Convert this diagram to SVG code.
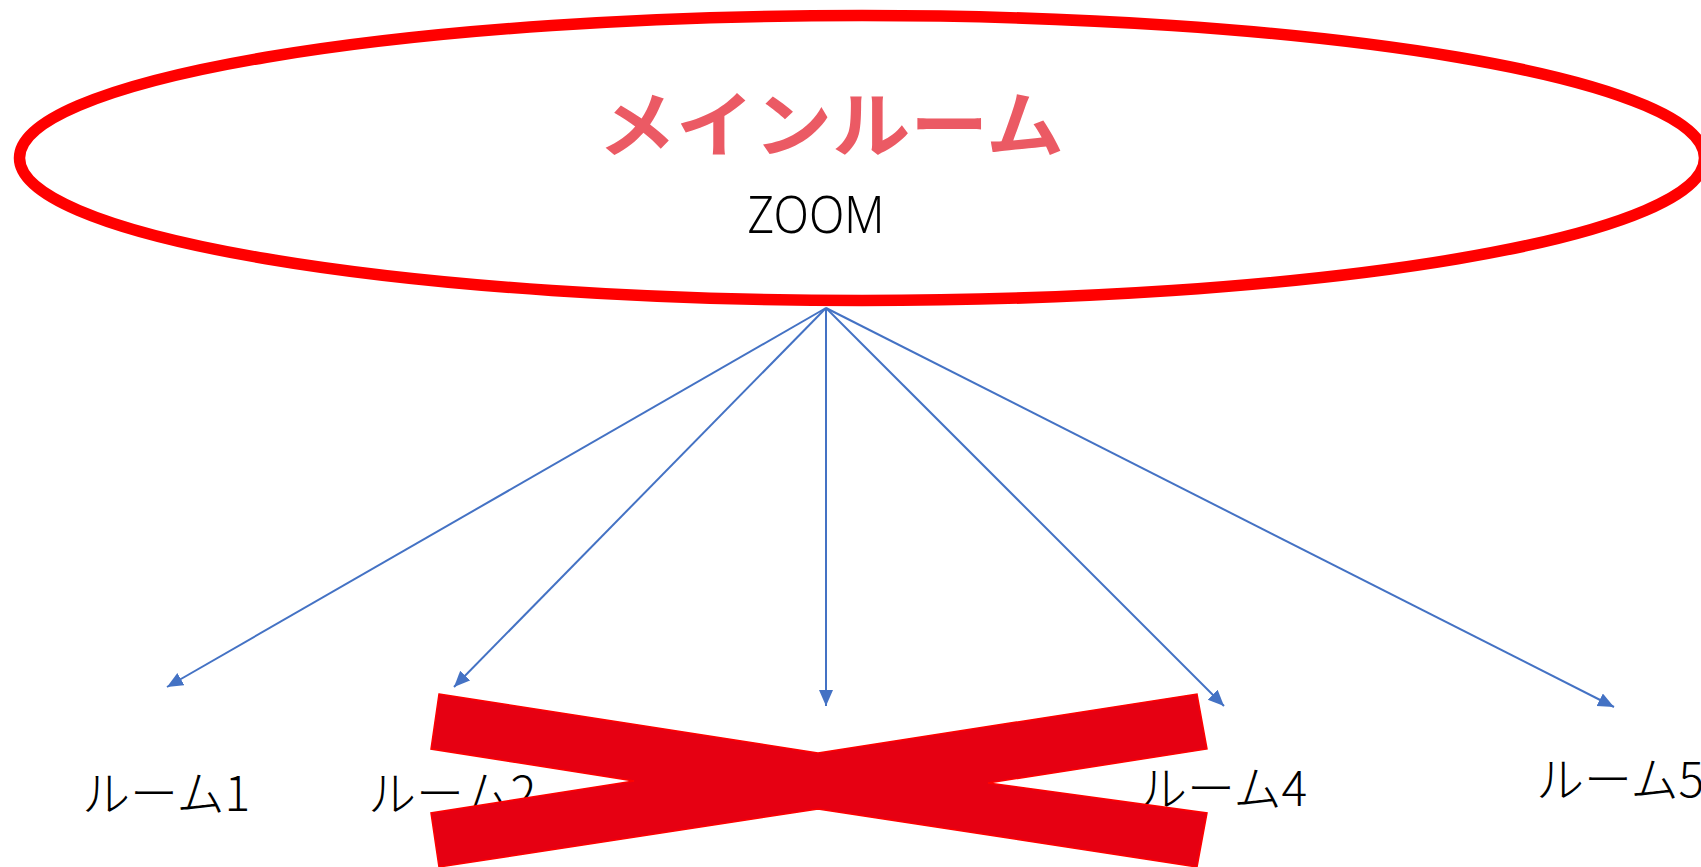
<svg xmlns="http://www.w3.org/2000/svg" width="1701" height="867" viewBox="0 0 1701 867">
  <style>
    .bg { fill: #ffffff; }
    .main-ellipse { fill: #ffffff; stroke: #ff0000; stroke-width: 11.5; }
    .title { font-family: "Noto Sans CJK JP", "Noto Sans", sans-serif; font-weight: 700; font-size: 72px; fill: #eb5a64; }
    .sub { font-family: "Noto Sans", "Open Sans", sans-serif; font-weight: 300; font-size: 52px; fill: #000000; }
    .label { font-family: "Noto Sans CJK JP", "Noto Sans", sans-serif; font-weight: 300; font-size: 48px; fill: #000000; }
    .conn { stroke: #4472c4; stroke-width: 2; fill: none; marker-end: url(#arrow); }
    .cross { fill: #e60012; stroke: #ff0000; stroke-width: 1.5; stroke-linejoin: miter; }
  </style>
  <defs>
    <marker id="arrow" markerUnits="userSpaceOnUse" markerWidth="17" markerHeight="15" refX="16" refY="7" orient="auto">
      <path d="M0,0 L16,7 L0,14 z" fill="#4472c4"/>
    </marker>
  </defs>
  <rect class="bg" x="0" y="0" width="1701" height="867"/>

  <g id="main-room">
    <ellipse class="main-ellipse" cx="862" cy="158" rx="842.5" ry="142.5"/>
    <text class="title" x="831" y="150.5" text-anchor="middle" textLength="466" lengthAdjust="spacingAndGlyphs">メインルーム</text>
    <text class="sub" x="816" y="233" text-anchor="middle" textLength="137" lengthAdjust="spacingAndGlyphs">ZOOM</text>
  </g>

  <g id="connectors">
    <line class="conn" x1="826" y1="308" x2="167" y2="687"/>
    <line class="conn" x1="826" y1="308" x2="454" y2="687"/>
    <line class="conn" x1="826" y1="308" x2="826" y2="706"/>
    <line class="conn" x1="826" y1="308" x2="1224" y2="706"/>
    <line class="conn" x1="826" y1="308" x2="1614" y2="707"/>
  </g>

  <g id="room1">
    <text class="label" x="82" y="811">ルーム1</text>
  </g>
  <g id="room2">
    <text class="label" x="368" y="811">ルーム2</text>
  </g>
  <g id="room4">
    <text class="label" x="1139" y="806">ルーム4</text>
  </g>
  <g id="room5">
    <text class="label" x="1536" y="797">ルーム5</text>
  </g>

  <g id="cross-mark">
    <path class="cross" d="M439,694 L818,753 L1197,694 L1207,749 L988,783 L1207,813 L1197,867 L818,809 L439,867 L431,813 L634,781 L431,749 Z"/>
  </g>
</svg>
